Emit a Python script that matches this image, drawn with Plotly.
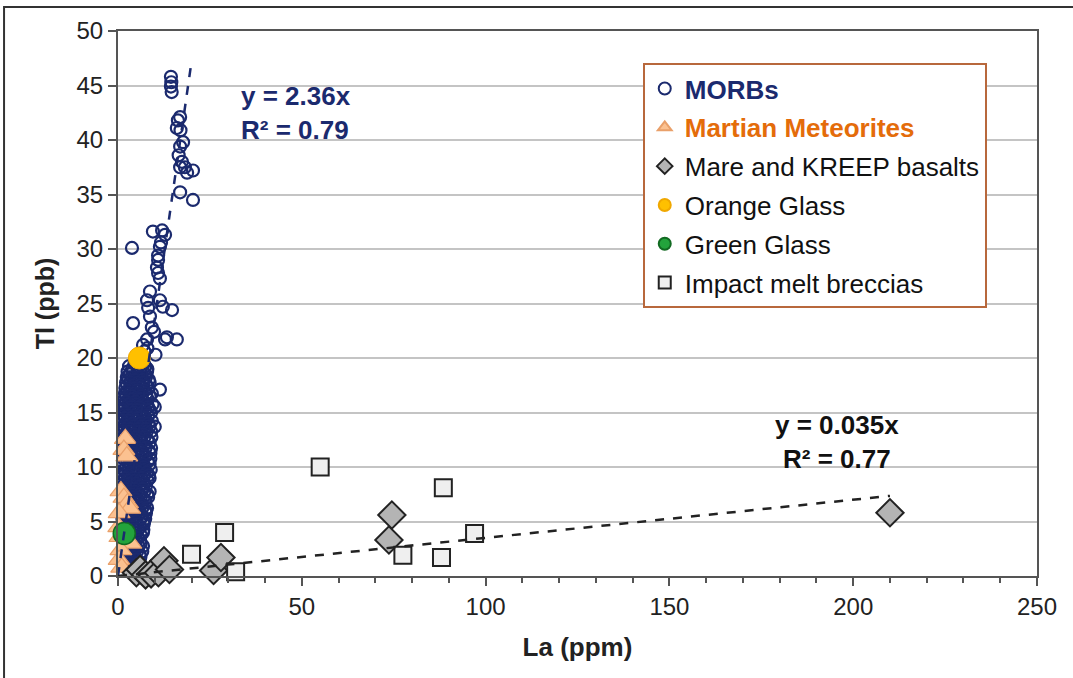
import plotly.graph_objects as go

# ---- data -------------------------------------------------------------
# MORBs: scattered high-Tl samples
morb_la = [
    14.4, 14.5, 14.4, 14.6, 16.9, 16.3, 16.0, 17.0, 17.7, 16.9, 16.5, 17.4,
    18.2, 16.9, 20.4, 18.8, 16.9, 20.4, 9.5, 12.0, 12.8, 11.7, 3.8, 11.4,
    10.9, 10.9, 10.6, 10.9, 11.4, 8.7, 7.9, 11.4, 12.2, 14.7, 8.2, 4.1,
    8.7, 9.2, 13.3, 16.0, 12.8, 7.9, 6.8, 9.8, 7.2, 10.2, 6.5, 8.0,
]
morb_tl = [
    45.8, 45.3, 44.9, 44.4, 42.1, 41.8, 41.1, 40.9, 39.8, 39.4, 38.6, 38.0,
    37.5, 37.5, 37.2, 37.0, 35.2, 34.5, 31.6, 31.7, 31.3, 30.6, 30.1, 30.2,
    29.4, 29.0, 28.3, 27.8, 27.3, 26.1, 25.3, 25.3, 24.7, 24.4, 24.6, 23.2,
    23.8, 22.8, 21.9, 21.7, 21.7, 21.7, 21.2, 22.4, 20.6, 20.3, 19.8, 20.9,
]

# MORBs: dense low-La cluster (one line per Tl level)
core_la = [
    4.5, 7.0,
    3.0, 5.2, 7.4,
    3.8, 6.2, 8.0,
    2.6, 4.0, 5.9, 7.9,
    3.2, 5.5, 7.5,
    2.4, 3.7, 5.2, 6.1, 7.6,
    2.8, 4.6, 6.8, 8.4,
    2.2, 3.4, 5.4, 6.9, 8.6,
    2.5, 4.2, 6.0, 7.8,
    2.0, 3.5, 4.6, 6.3, 8.2,
    2.6, 5.1, 7.2, 11.4,
    1.9, 3.1, 4.5, 5.7, 7.7, 9.2,
    2.3, 3.9, 6.4, 8.6,
    1.8, 3.2, 4.0, 5.5, 6.3, 8.0,
    2.2, 4.8, 7.0,
    1.7, 2.9, 4.4, 5.0, 6.9, 7.9, 9.4,
    2.0, 3.5, 5.8, 8.2, 10.0,
    1.6, 2.9, 3.8, 5.1, 7.4, 8.6,
    2.1, 4.3, 6.6, 9.0,
    1.7, 2.8, 4.6, 5.9, 6.8, 8.2,
    1.9, 3.6, 5.2, 7.4,
    1.5, 2.8, 4.9, 6.9, 7.7, 9.2,
    2.0, 4.0, 6.1, 8.3,
    1.6, 2.6, 4.3, 6.5, 8.6, 10.0,
    1.8, 3.3, 5.5, 7.6,
    1.5, 3.1, 5.3, 6.0, 7.8, 9.0,
    2.0, 4.5, 6.8,
    1.6, 3.0, 4.9, 6.3, 7.2, 9.1,
    2.4, 3.8, 5.9, 8.0,
    1.7, 3.4, 4.4, 6.4, 8.6,
    2.9, 5.0, 7.1,
    1.8, 2.2, 4.0, 5.6, 7.5, 9.0,
    3.1, 4.4, 6.3, 8.4,
    1.7, 3.6, 4.7, 6.8, 8.8,
    2.7, 5.3, 7.5,
    1.6, 3.3, 4.6, 6.4, 8.8,
    2.5, 3.9, 6.0, 8.1,
    1.5, 3.2, 5.4, 6.9, 8.6,
    2.3, 4.7, 6.9,
    1.6, 2.9, 4.1, 6.0, 7.2, 8.9,
    2.1, 3.6, 5.6, 7.8,
    1.5, 3.0, 4.8, 7.1, 8.4,
    2.0, 4.2, 6.4, 8.6,
    1.4, 2.8, 4.5, 5.9, 6.8, 8.0,
    1.9, 3.4, 5.1, 7.2,
    1.5, 3.0, 4.1, 5.9, 7.6,
    2.2, 4.6, 6.7,
    1.6, 3.2, 4.6, 6.4, 7.2, 8.6,
    2.5, 3.8, 5.9, 8.0,
    1.5, 3.5, 4.2, 6.2, 8.2,
    2.4, 5.0, 7.3,
    1.4, 3.3, 4.7, 5.8, 7.4,
    2.2, 4.1, 6.2,
    1.3, 2.9, 4.5, 6.6, 7.9,
    2.0, 3.5, 5.4, 7.5,
    1.3, 2.8, 4.0, 5.9, 7.6,
    1.8, 4.4, 6.6,
    1.2, 2.5, 4.1, 6.2, 7.4,
    1.6, 3.2, 5.0, 7.1,
    1.3, 2.6, 4.7, 5.3, 7.0,
    1.7, 3.9, 6.0,
    1.5, 3.0, 4.2, 5.5, 6.9,
    2.0, 4.8, 6.8,
    1.8, 3.2, 4.6, 6.2,
    2.3, 3.6, 5.5,
    2.0, 3.6, 5.0, 6.0,
    2.6, 4.3, 6.2,
    2.3, 3.8, 5.6, 6.8,
    2.9, 5.0,
    2.6, 4.0, 5.2, 6.6,
    3.1, 4.2, 5.9,
    2.9, 4.4, 6.1,
    3.4, 5.1,
    3.2, 4.2, 5.8,
    3.6, 4.6,
    3.5, 4.8, 6.0,
    3.9, 5.2,
]
core_tl = [
    19.5, 19.5,
    19.25, 19.25, 19.25,
    19.0, 19.0, 19.0,
    18.75, 18.75, 18.75, 18.75,
    18.5, 18.5, 18.5,
    18.25, 18.25, 18.25, 18.25, 18.25,
    18.0, 18.0, 18.0, 18.0,
    17.75, 17.75, 17.75, 17.75, 17.75,
    17.5, 17.5, 17.5, 17.5,
    17.25, 17.25, 17.25, 17.25, 17.25,
    17.0, 17.0, 17.0, 17.1,
    16.75, 16.75, 16.75, 16.75, 16.75, 16.75,
    16.5, 16.5, 16.5, 16.5,
    16.25, 16.25, 16.25, 16.25, 16.25, 16.25,
    16.0, 16.0, 16.0,
    15.75, 15.75, 15.75, 15.75, 15.75, 15.75, 15.75,
    15.5, 15.5, 15.5, 15.5, 15.5,
    15.25, 15.25, 15.25, 15.25, 15.25, 15.25,
    15.0, 15.0, 15.0, 15.0,
    14.75, 14.75, 14.75, 14.75, 14.75, 14.75,
    14.5, 14.5, 14.5, 14.5,
    14.25, 14.25, 14.25, 14.25, 14.25, 14.25,
    14.0, 14.0, 14.0, 14.0,
    13.75, 13.75, 13.75, 13.75, 13.75, 13.7,
    13.5, 13.5, 13.5, 13.5,
    13.25, 13.25, 13.25, 13.25, 13.25, 13.25,
    13.0, 13.0, 13.0,
    12.75, 12.75, 12.75, 12.75, 12.75, 12.75,
    12.5, 12.5, 12.5, 12.5,
    12.25, 12.25, 12.25, 12.25, 12.25,
    12.0, 12.0, 12.0,
    11.75, 11.75, 11.75, 11.75, 11.75, 11.75,
    11.5, 11.5, 11.5, 11.5,
    11.25, 11.25, 11.25, 11.25, 11.25,
    11.0, 11.0, 11.0,
    10.75, 10.75, 10.75, 10.75, 10.75,
    10.5, 10.5, 10.5, 10.5,
    10.25, 10.25, 10.25, 10.25, 10.25,
    10.0, 10.0, 10.0,
    9.75, 9.75, 9.75, 9.75, 9.75, 9.75,
    9.5, 9.5, 9.5, 9.5,
    9.25, 9.25, 9.25, 9.25, 9.25,
    9.0, 9.0, 9.0, 9.0,
    8.75, 8.75, 8.75, 8.75, 8.75, 8.75,
    8.5, 8.5, 8.5, 8.5,
    8.25, 8.25, 8.25, 8.25, 8.25,
    8.0, 8.0, 8.0,
    7.75, 7.75, 7.75, 7.75, 7.75, 7.75,
    7.5, 7.5, 7.5, 7.5,
    7.25, 7.25, 7.25, 7.25, 7.25,
    7.0, 7.0, 7.0,
    6.75, 6.75, 6.75, 6.75, 6.75,
    6.5, 6.5, 6.5,
    6.25, 6.25, 6.25, 6.25, 6.25,
    6.0, 6.0, 6.0, 6.0,
    5.75, 5.75, 5.75, 5.75, 5.75,
    5.5, 5.5, 5.5,
    5.25, 5.25, 5.25, 5.25, 5.25,
    5.0, 5.0, 5.0, 5.0,
    4.75, 4.75, 4.75, 4.75, 4.75,
    4.5, 4.5, 4.5,
    4.25, 4.25, 4.25, 4.25, 4.25,
    4.0, 4.0, 4.0,
    3.75, 3.75, 3.75, 3.75,
    3.5, 3.5, 3.5,
    3.25, 3.25, 3.25, 3.25,
    3.0, 3.0, 3.0,
    2.75, 2.75, 2.75, 2.75,
    2.5, 2.5,
    2.25, 2.25, 2.25, 2.25,
    2.0, 2.0, 2.0,
    1.75, 1.75, 1.75,
    1.5, 1.5,
    1.25, 1.25, 1.25,
    1.0, 1.0,
    0.75, 0.75, 0.75,
    0.5, 0.5,
]

martian_la = [2.0, 1.6, 2.4, 0.8, 1.6, 2.6, 3.2, 0.3, 0.2, 0.5, 3.5, 0.8, 0.3, 1.0]
martian_tl = [12.6, 11.6, 11.0, 7.8, 7.2, 6.7, 6.2, 5.8, 4.5, 3.6, 3.0, 2.4, 1.5, 0.8]

mare_la = [5.0, 6.0, 7.5, 9.0, 11.0, 12.5, 14.0, 26.0, 28.0, 73.7, 74.5, 210.0]
mare_tl = [0.3, 0.6, 0.1, 0.2, 0.3, 1.4, 0.6, 0.5, 1.7, 3.3, 5.6, 5.8]

orange_la = [5.8]
orange_tl = [20.0]

green_la = [1.7]
green_tl = [3.9]

breccia_la = [55.0, 88.5, 29.0, 20.0, 97.0, 77.5, 88.0, 32.0]
breccia_tl = [10.0, 8.1, 4.0, 2.0, 3.9, 1.9, 1.7, 0.4]

# regression lines through the origin
morb_slope, morb_r2, morb_xmax = 2.36, 0.79, 20.0
lunar_slope, lunar_r2, lunar_xmax = 0.035, 0.77, 210.0

assert len(core_la) == len(core_tl), (len(core_la), len(core_tl))

FONT = "Liberation Sans, Arial, sans-serif"
NAVY = "#1b2a6e"
ORANGE_TXT = "#e46c0a"

fig = go.Figure()

fig.add_trace(go.Scatter(
    x=morb_la + core_la, y=morb_tl + core_tl, mode="markers", cliponaxis=False,
    name=f"<span style='color:{NAVY}'><b>MORBs</b></span>", legendgroup="a",
    marker=dict(symbol="circle-open", size=12, color=NAVY, line=dict(width=2.2, color=NAVY)),
))
fig.add_trace(go.Scatter(
    x=martian_la, y=martian_tl, mode="markers", cliponaxis=False,
    name=f"<span style='color:{ORANGE_TXT}'><b>Martian Meteorites</b></span>", legendgroup="b",
    marker=dict(symbol="triangle-up", size=19, color="#fbc190", line=dict(width=1.2, color="#e9a06a")),
))
fig.add_trace(go.Scatter(
    x=mare_la, y=mare_tl, mode="markers", cliponaxis=False,
    name="Mare and KREEP basalts", legendgroup="c",
    marker=dict(symbol="diamond", size=21, color="#b4b4b4", line=dict(width=2, color="#222222")),
))
fig.add_trace(go.Scatter(
    x=orange_la, y=orange_tl, mode="markers", cliponaxis=False,
    name="Orange Glass", legendgroup="d",
    marker=dict(symbol="circle", size=22, color="#ffc000", line=dict(width=1, color="#f0a800")),
))
fig.add_trace(go.Scatter(
    x=green_la, y=green_tl, mode="markers", cliponaxis=False,
    name="Green Glass", legendgroup="e",
    marker=dict(symbol="circle", size=22, color="#23a33c", line=dict(width=1.5, color="#126a22")),
))
fig.add_trace(go.Scatter(
    x=breccia_la, y=breccia_tl, mode="markers", cliponaxis=False,
    name="Impact melt breccias", legendgroup="f",
    marker=dict(symbol="square", size=17, color="#efefef", line=dict(width=2, color="#222222")),
))

# trend lines
fig.add_trace(go.Scatter(
    x=[0, morb_xmax], y=[0, morb_slope * morb_xmax], mode="lines", showlegend=False,
    line=dict(color=NAVY, width=2.5, dash="dash"), hoverinfo="skip",
))
fig.add_trace(go.Scatter(
    x=[0, lunar_xmax], y=[0, lunar_slope * lunar_xmax], mode="lines", showlegend=False,
    line=dict(color="#222222", width=2.5, dash="dash"), hoverinfo="skip",
))

fig.add_annotation(
    x=33.0, y=45.6, xref="x", yref="y", xanchor="left", yanchor="top", align="left",
    text=f"<b>y = {morb_slope}x<br>R² = {morb_r2}</b>", showarrow=False,
    font=dict(family=FONT, size=26, color=NAVY),
)
fig.add_annotation(
    x=195.5, y=15.4, xref="x", yref="y", xanchor="center", yanchor="top", align="center",
    text=f"<b>y = {lunar_slope}x<br>R² = {lunar_r2}</b>", showarrow=False,
    font=dict(family=FONT, size=26, color="#111111"),
)

# outer frame of the figure
fig.add_shape(type="rect", xref="paper", yref="paper", x0=-0.124, x1=1.2, y0=-0.4, y1=1.044,
              line=dict(color="#333333", width=2), fillcolor="rgba(0,0,0,0)", layer="above")

fig.update_layout(
    width=1073, height=678,
    margin=dict(l=118, r=36, t=31, b=102),
    paper_bgcolor="white", plot_bgcolor="white",
    font=dict(family=FONT, size=24, color="#222222"),
    showlegend=True,
    legend=dict(
        x=0.571, y=0.941, xanchor="left", yanchor="top",
        bgcolor="white", bordercolor="#b8683c", borderwidth=2,
        font=dict(family=FONT, size=26, color="#111111"),
        tracegroupgap=2, itemsizing="constant", itemwidth=30,
    ),
    xaxis=dict(
        range=[0, 250], dtick=50, tick0=0, showgrid=False, zeroline=False,
        showline=True, linecolor="#555555", linewidth=2, mirror=True,
        ticks="outside", ticklen=8, tickwidth=1.5, tickcolor="#555555",
        minor=dict(dtick=10, ticks="outside", ticklen=5, tickwidth=1.5, tickcolor="#555555", showgrid=False),
        tickfont=dict(size=24, color="#222222"),
        title=dict(text="<b>La (ppm)</b>", font=dict(size=26, color="#222222"), standoff=19),
    ),
    yaxis=dict(
        range=[0, 50], dtick=5, tick0=0, showgrid=True, gridcolor="#c4c4c4", gridwidth=2,
        zeroline=False, showline=True, linecolor="#555555", linewidth=2, mirror=True,
        ticks="outside", ticklen=8, tickwidth=1.5, tickcolor="#555555",
        tickfont=dict(size=24, color="#222222"),
        title=dict(text="<b>Tl (ppb)</b>", font=dict(size=25, color="#222222"), standoff=15),
    ),
)

fig.write_html("out.html")
